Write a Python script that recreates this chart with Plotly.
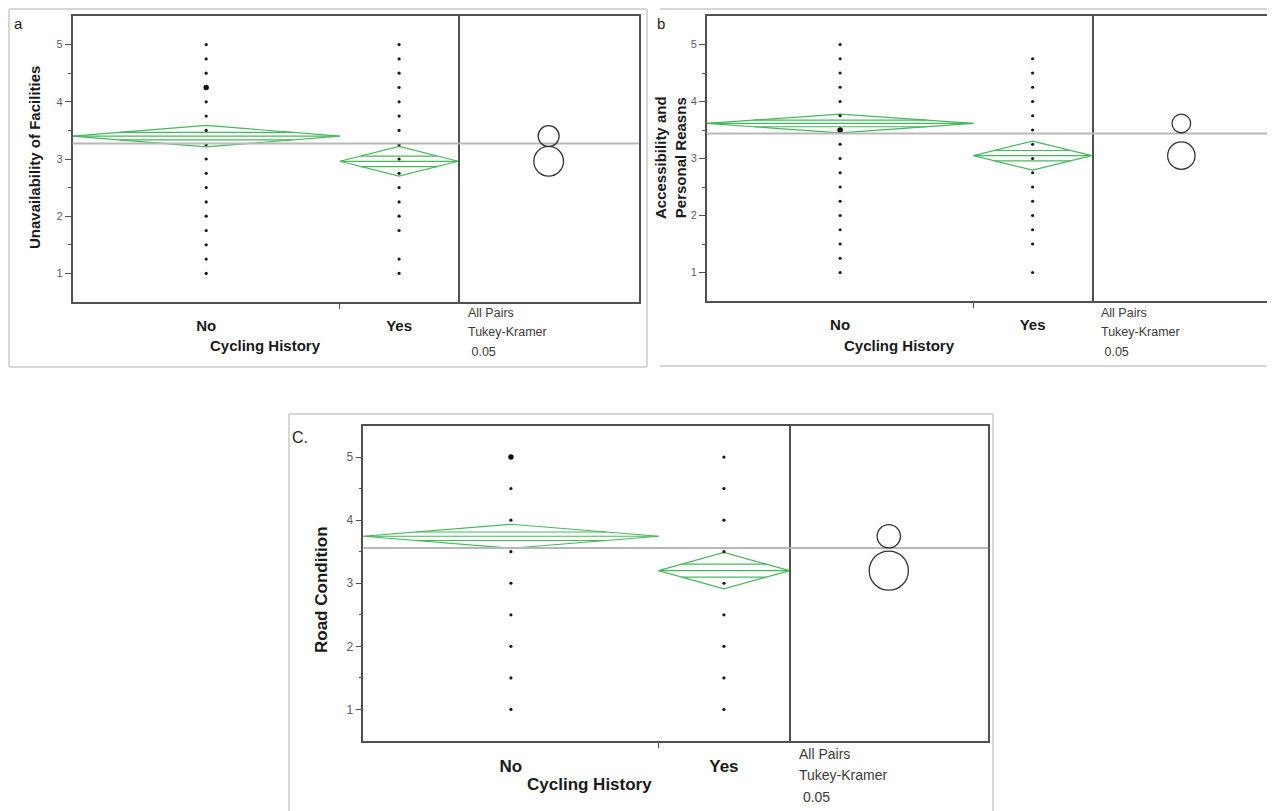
import numpy as np
import plotly.graph_objects as go

# ---------------- data ----------------
categories = ["No", "Yes"]
group_n = [70, 31]  # relative group sizes (set widths of the groups)

# panel a : Unavailability of Facilities
a_no_pts = [1, 1.25, 1.5, 1.75, 2, 2.25, 2.5, 2.75, 3, 3.25, 3.5, 3.75, 4, 4.25, 4.5, 4.75, 5]
a_yes_pts = [1, 1.25, 1.75, 2, 2.25, 2.5, 2.75, 3, 3.25, 3.5, 3.75, 4, 4.25, 4.5, 4.75, 5]
a_big = [4.25]
a_means = [3.40, 2.96]
a_ci = [0.187, 0.26]
a_grand = 3.27
a_circle_r = [0.183, 0.26]

# panel b : Accessibility and Personal Reasns
b_no_pts = [1, 1.25, 1.5, 1.75, 2, 2.25, 2.5, 2.75, 3, 3.25, 3.5, 3.75, 4, 4.25, 4.5, 4.75, 5]
b_yes_pts = [1, 1.5, 1.75, 2, 2.25, 2.5, 2.75, 3, 3.25, 3.5, 3.75, 4, 4.25, 4.5, 4.75]
b_big = [3.5]
b_means = [3.615, 3.05]
b_ci = [0.165, 0.255]
b_grand = 3.44
b_circle_r = [0.163, 0.24]

# panel c : Road Condition
c_no_pts = [1, 1.5, 2, 2.5, 3, 3.5, 4, 4.5, 5]
c_yes_pts = [1, 1.5, 2, 2.5, 3, 3.5, 4, 4.5, 5]
c_big = [5]
c_means = [3.745, 3.20]
c_ci = [0.19, 0.29]
c_grand = 3.56
c_circle_r = [0.185, 0.31]

y_ticks = [1, 2, 3, 4, 5]
y_minor = [1.5, 2.5, 3.5, 4.5]
y_range = [0.5, 5.5]

# ---------------- layout geometry (page pixels) ----------------
OFF = 8                      # default page margin around the plot div
W, H = 1275 - OFF, 811 - OFF  # figure size
def fx(p): return (p - OFF) / W
def fy(p): return 1 - (p - OFF) / H

panels = [
    dict(tag="a", ytitle="Unavailability of Facilities", no=a_no_pts, yes=a_yes_pts, big=a_big,
         means=a_means, ci=a_ci, grand=a_grand, cr=a_circle_r,
         main=(72.5, 458.3), circ=(458.3, 639.0), top=16, bot=302,
         label=("a", 18, 24, 15), ytpos=(35, 158), xtpos=(265, 345), fs=15, tfs=11,
         notes=(466, [313, 332, 352], 12.5)),
    dict(tag="b", ytitle="Accessibility and<br>Personal Reasns", no=b_no_pts, yes=b_yes_pts, big=b_big,
         means=b_means, ci=b_ci, grand=b_grand, cr=b_circle_r,
         main=(706.7, 1091.7), circ=(1091.7, 1271.0), top=16, bot=301,
         label=("b", 661, 24, 15), ytpos=(671, 158), xtpos=(899, 345), fs=15, tfs=11,
         notes=(1099, [313, 332, 352], 12.5)),
    dict(tag="c", ytitle="Road Condition", no=c_no_pts, yes=c_yes_pts, big=c_big,
         means=c_means, ci=c_ci, grand=c_grand, cr=c_circle_r,
         main=(363.3, 789.3), circ=(789.3, 988.3), top=425.5, bot=741,
         label=("C.", 300, 437, 16), ytpos=(321, 590), xtpos=(589, 784), fs=17, tfs=12,
         notes=(797, [754, 775, 797], 14)),
]

GREEN = "rgb(70,184,92)"
FRAME = "#505050"
FONT = "Liberation Sans, Arial, sans-serif"

fig = go.Figure()
shapes = []
annotations = []
layout = {}

total = sum(group_n)
bounds = [(0, group_n[0]), (group_n[0], total)]
centers = [(b0 + b1) / 2 for b0, b1 in bounds]

for i, P in enumerate(panels):
    km, kc = 2 * i + 1, 2 * i + 2
    xm = "x" if km == 1 else f"x{km}"
    ym = "y" if km == 1 else f"y{km}"
    xc, yc = f"x{kc}", f"y{kc}"
    xm_ax = "xaxis" if km == 1 else f"xaxis{km}"
    ym_ax = "yaxis" if km == 1 else f"yaxis{km}"
    xc_ax, yc_ax = f"xaxis{kc}", f"yaxis{kc}"

    ydom = [fy(P["bot"]), fy(P["top"])]
    axis_common = dict(showline=True, linecolor=FRAME, linewidth=1.5,
                       showgrid=False, zeroline=False)

    layout[xm_ax] = dict(domain=[fx(P["main"][0]), fx(P["main"][1])], anchor=ym,
                         range=[0, total], tickmode="array", tickvals=centers,
                         ticktext=categories, ticks="", ticklabelstandoff=9, mirror=True,
                         tickfont=dict(family=FONT, size=P["fs"], color="#1a1a1a", weight="bold"),
                         minor=dict(tickmode="array", tickvals=[group_n[0]], ticks="outside",
                                    ticklen=5, tickcolor=FRAME, tickwidth=1),
                         **axis_common)
    layout[ym_ax] = dict(domain=ydom, anchor=xm, range=y_range, tickmode="array",
                         tickvals=y_ticks, ticks="outside", ticklen=6, tickcolor=FRAME,
                         tickwidth=1, mirror=True,
                         tickfont=dict(family=FONT, size=P["tfs"], color="#5a5a70"),
                         minor=dict(tickmode="array", tickvals=y_minor, ticks="outside",
                                    ticklen=3, tickcolor=FRAME, tickwidth=1),
                         **axis_common)

    # circles panel: same pixel scale in x as in y
    ppu = (P["bot"] - P["top"]) / (y_range[1] - y_range[0])
    cw = (P["circ"][1] - P["circ"][0]) / ppu
    layout[xc_ax] = dict(domain=[fx(P["circ"][0]), fx(P["circ"][1])], anchor=yc,
                         range=[0, cw], showticklabels=False, ticks="", mirror=True,
                         **axis_common)
    layout[yc_ax] = dict(domain=ydom, anchor=xc, range=y_range, showticklabels=False,
                         ticks="", side="right", mirror=False, **axis_common)

    # mean diamonds
    dx, dy = [], []
    mx, my = [], []
    ox, oy = [], []
    f = 1 - 1 / (2 * np.sqrt(2))
    for (b0, b1), m, h in zip(bounds, P["means"], P["ci"]):
        c = (b0 + b1) / 2
        dx += [b0, c, b1, c, b0, None]
        dy += [m, m + h, m, m - h, m, None]
        mx += [b0, b1, None]
        my += [m, m, None]
        d = h / (2 * np.sqrt(2))
        hw = (b1 - b0) / 2 * f
        ox += [c - hw, c + hw, None, c - hw, c + hw, None]
        oy += [m + d, m + d, None, m - d, m - d, None]
    for X, Y in [(dx, dy), (mx, my), (ox, oy)]:
        fig.add_trace(go.Scatter(x=X, y=Y, mode="lines", xaxis=xm, yaxis=ym,
                                 line=dict(color=GREEN, width=1.2), hoverinfo="skip",
                                 showlegend=False))

    # data points
    for c, pts in zip(centers, [P["no"], P["yes"]]):
        fig.add_trace(go.Scatter(x=[c] * len(pts), y=pts, mode="markers", xaxis=xm, yaxis=ym,
                                 marker=dict(color="#1a1a1a", size=3.2), showlegend=False))
    fig.add_trace(go.Scatter(x=[centers[0]] * len(P["big"]), y=P["big"], mode="markers",
                             xaxis=xm, yaxis=ym, marker=dict(color="#111", size=5.5),
                             showlegend=False))

    # grand mean line (both sub-panels)
    for xr, yr in [(xm, ym), (xc, yc)]:
        shapes.append(dict(type="line", xref=f"{xr} domain", yref=yr, x0=0, x1=1,
                           y0=P["grand"], y1=P["grand"],
                           line=dict(color="#b8b8b8", width=2), layer="above"))

    # comparison circles
    ccx = cw / 2
    for m, r in zip(P["means"], P["cr"]):
        shapes.append(dict(type="circle", xref=xc, yref=yc, x0=ccx - r, x1=ccx + r,
                           y0=m - r, y1=m + r, line=dict(color="#333", width=1.3)))

    # texts
    t, lx, ly, ls = P["label"]
    annotations.append(dict(text=t, x=fx(lx), y=fy(ly), xref="paper", yref="paper",
                            showarrow=False, xanchor="center", yanchor="middle",
                            font=dict(family=FONT, size=ls, color="#222")))
    annotations.append(dict(text=P["ytitle"], x=fx(P["ytpos"][0]), y=fy(P["ytpos"][1]),
                            xref="paper", yref="paper", showarrow=False, textangle=-90,
                            xanchor="center", yanchor="middle",
                            font=dict(family=FONT, size=P["fs"], color="#1a1a1a", weight="bold")))
    annotations.append(dict(text="Cycling History", x=fx(P["xtpos"][0]), y=fy(P["xtpos"][1]),
                            xref="paper", yref="paper", showarrow=False,
                            xanchor="center", yanchor="middle",
                            font=dict(family=FONT, size=P["fs"], color="#1a1a1a", weight="bold")))
    nx, nys, nfs = P["notes"]
    for txt, ny in zip(["All Pairs", "Tukey-Kramer", "\u00a00.05"], nys):
        annotations.append(dict(text=txt, x=fx(nx), y=fy(ny), xref="paper", yref="paper",
                                showarrow=False, xanchor="left", yanchor="middle",
                                font=dict(family=FONT, size=nfs, color="#3a3a3a")))

# panel borders (light grey frames)
BORDER = dict(color="#d6d6d6", width=2)
def pline(x0, y0, x1, y1):
    shapes.append(dict(type="line", xref="paper", yref="paper", x0=fx(x0), y0=fy(y0),
                       x1=fx(x1), y1=fy(y1), line=BORDER))
TOPB = OFF + 1
LEFTB = OFF + 1
# panel a
pline(LEFTB, TOPB, 647, TOPB); pline(LEFTB, 367, 647, 367)
pline(LEFTB, TOPB, LEFTB, 367); pline(647, TOPB, 647, 367)
# panel b
pline(660, TOPB, 1275, TOPB); pline(660, 366, 1275, 366)
# panel c
pline(289, 414, 993, 414); pline(289, 414, 289, 811); pline(993, 414, 993, 811)

fig.update_layout(width=W, height=H, margin=dict(l=0, r=0, t=0, b=0),
                  paper_bgcolor="white", plot_bgcolor="white",
                  shapes=shapes, annotations=annotations, showlegend=False, **layout)

fig.write_html("out.html")
